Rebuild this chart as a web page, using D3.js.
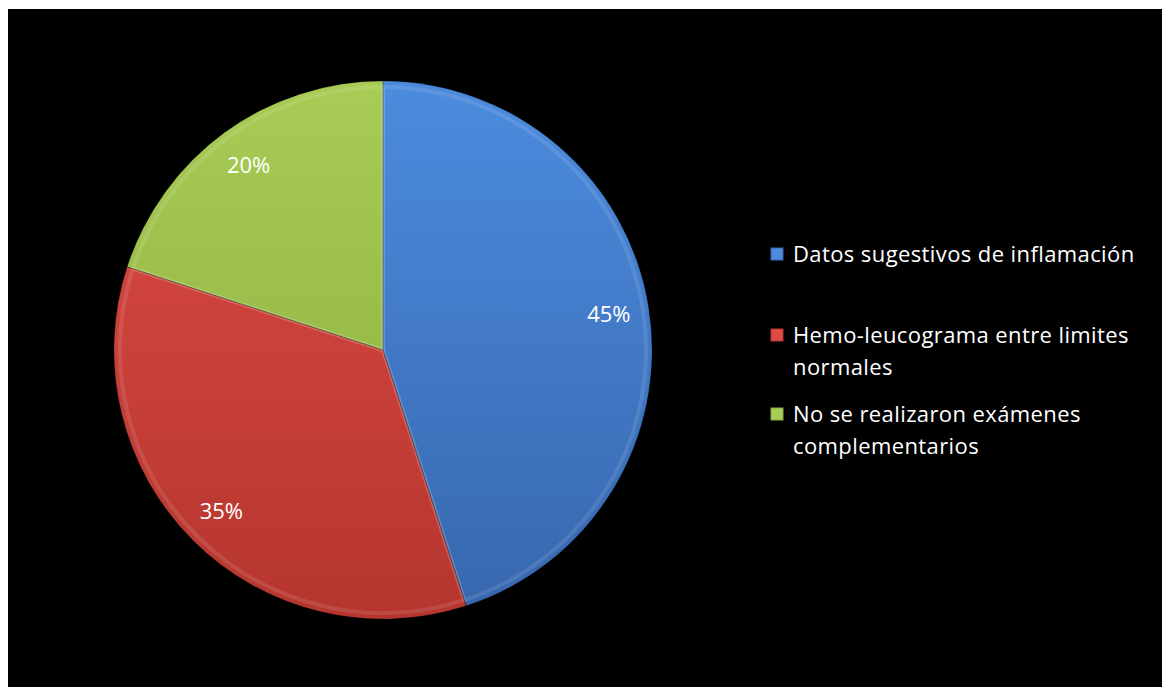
<!DOCTYPE html>
<html><head><meta charset="utf-8">
<script src="https://cdn.jsdelivr.net/npm/d3@7/dist/d3.min.js"></script>
<style>html,body{margin:0;padding:0;background:#fff;overflow:hidden}</style>
</head><body>
<svg id="c" width="1162" height="687"></svg>
<script>
const categories = ["Datos sugestivos de inflamación", "Hemo-leucograma entre limites normales", "No se realizaron exámenes complementarios"];
const values = [45, 35, 20];
const legendLines = [["Datos sugestivos de inflamación"], ["Hemo-leucograma entre limites", "normales"], ["No se realizaron exámenes", "complementarios"]];
const colorsTop = ["#4C8BDE", "#DD4B44", "#A8CC55"];
const colorsBottom = ["#3767AE", "#B5362F", "#8AAA3F"];

const svg = d3.select("#c");
svg.append("rect").attr("x", 8).attr("y", 9).attr("width", 1154).attr("height", 678).attr("fill", "#000");

const cx = 383, cy = 350, r = 269;
const defs = svg.append("defs");
values.forEach((v, i) => {
  const g = defs.append("linearGradient").attr("id", "g" + i)
    .attr("gradientUnits", "userSpaceOnUse")
    .attr("x1", 0).attr("y1", -r).attr("x2", 0).attr("y2", r);
  g.append("stop").attr("offset", "0%").attr("stop-color", colorsTop[i]);
  g.append("stop").attr("offset", "100%").attr("stop-color", colorsBottom[i]);
});

const pie = d3.pie().sort(null).value(d => d)(values);
const arc = d3.arc().innerRadius(0).outerRadius(r);
const arcIn = d3.arc().innerRadius(0).outerRadius(r - 6);
const labelArc = d3.arc().innerRadius(r * 0.85).outerRadius(r * 0.85);

const gp = svg.append("g").attr("transform", `translate(${cx},${cy})`);
gp.selectAll("path.s").data(pie).join("path").attr("class", "s")
  .attr("d", arc).attr("fill", (d, i) => `url(#g${i})`);
gp.selectAll("path.b").data(pie).join("path").attr("class", "b")
  .attr("d", arcIn).attr("fill", "none")
  .attr("stroke", "rgba(255,255,255,0.10)").attr("stroke-width", 4);
gp.selectAll("path.e").data(pie).join("path").attr("class", "e")
  .attr("d", arc).attr("fill", "none")
  .attr("stroke", "rgba(0,0,0,0.18)").attr("stroke-width", 1);

gp.selectAll("text.l").data(pie).join("text").attr("class", "l")
  .attr("transform", d => `translate(${labelArc.centroid(d)})`)
  .attr("text-anchor", "middle").attr("dy", "0.35em")
  .attr("fill", "#fff").attr("font-family", "Open Sans, Liberation Sans, sans-serif")
  .attr("font-size", 22).text(d => d.data + "%");

const lg = svg.append("g").attr("font-family", "Open Sans, Liberation Sans, sans-serif").attr("font-size", 22).attr("letter-spacing", 0.4).attr("fill", "#fff");
const tops = [254, 335, 414];
legendLines.forEach((lines, i) => {
  lg.append("rect").attr("x", 771).attr("y", tops[i] - 6).attr("width", 12).attr("height", 12)
    .attr("fill", colorsTop[i]).attr("stroke", colorsBottom[i]).attr("stroke-width", 1);
  lines.forEach((t, j) => {
    lg.append("text").attr("x", 793).attr("y", tops[i] + j * 32).attr("dy", "0.35em").text(t);
  });
});
</script>
</body></html>
